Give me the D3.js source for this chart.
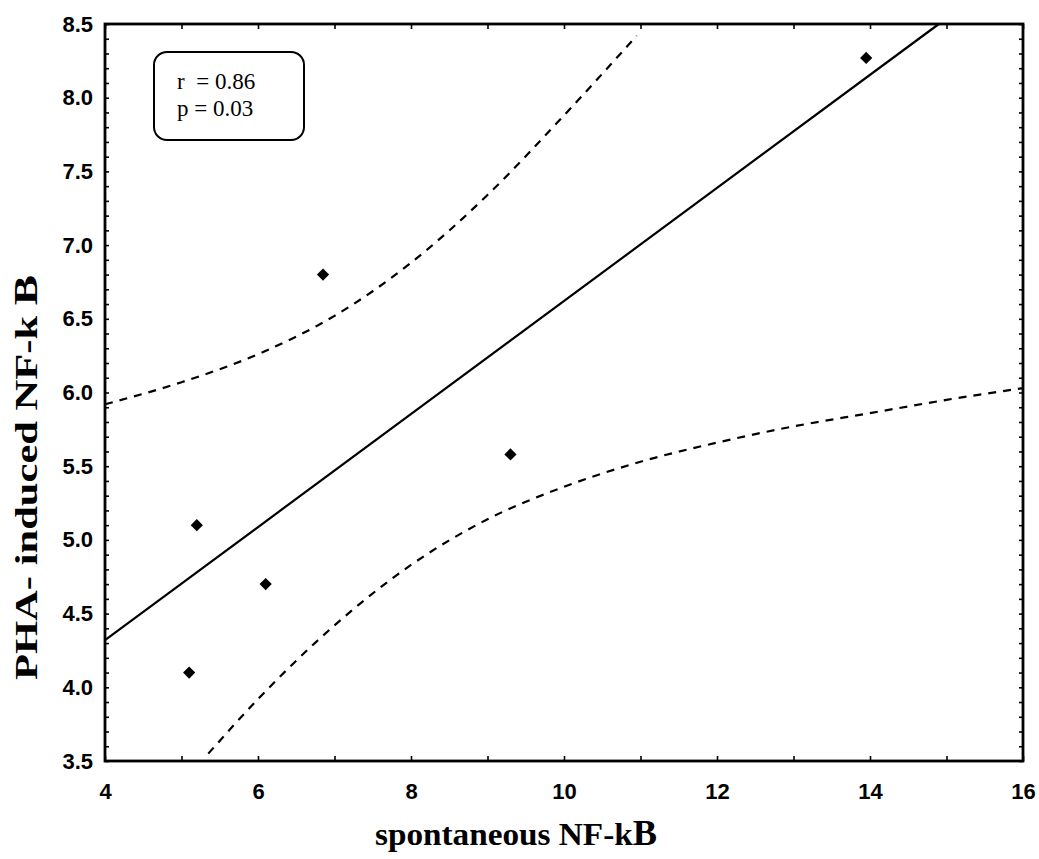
<!DOCTYPE html>
<html>
<head>
<meta charset="utf-8">
<script src="https://cdn.jsdelivr.net/npm/d3@7"></script>
<style>
  body { margin: 0; background: #fff; }
</style>
</head>
<body>
<script>
// scatter of spontaneous vs PHA-induced NF-kB, with fit line and 95% band
// values

var spontaneous = [5.1, 5.2, 6.1, 6.85, 9.3, 13.95];
var phaInduced = [4.1, 5.1, 4.7, 6.8, 5.58, 8.27];

// regression line end points
var fitX = [4, 14.9];
var fitY = [4.32, 8.5];

// upper dashed band
var upperX = [4, 5, 6, 7, 8, 9, 10, 10.95];
var upperY = [5.92, 6.07, 6.26, 6.52, 6.88, 7.34, 7.88, 8.42];

// lower dashed band
var lowerX = [5.35, 6, 7, 8, 9, 10, 11, 12, 13, 14, 15, 16];
var lowerY = [3.55, 3.92, 4.42, 4.83, 5.14, 5.36, 5.53, 5.66, 5.77, 5.86, 5.95, 6.03];

var xTicks = [4, 6, 8, 10, 12, 14, 16];
var yTicks = [3.5, 4.0, 4.5, 5.0, 5.5, 6.0, 6.5, 7.0, 7.5, 8.0, 8.5];
var statLines = ["r  = 0.86", "p = 0.03"];

var W = 1039, H = 859;
var pl = 105, pr = 1023, pt = 24, pb = 761;

var svg = d3.select('body')
  .append('svg')
  .attr('width', W)
  .attr('height', H);

var x = d3.scaleLinear().domain([4, 16]).range([pl, pr]);
var y = d3.scaleLinear().domain([3.5, 8.5]).range([pb, pt]);

// minor ticks, inward on all four sides
var xMinor = d3.range(4, 16.01, 1);
var yMinor = d3.range(35, 85.01, 1).map(function (v) { return v / 10; });

svg.append('g')
  .attr('transform', 'translate(0,' + pb + ')')
  .call(d3.axisBottom(x).tickValues(xMinor).tickSize(-5).tickFormat(''))
  .call(function (g) { g.select('.domain').remove(); });

svg.append('g')
  .attr('transform', 'translate(0,' + pt + ')')
  .call(d3.axisTop(x).tickValues(xMinor).tickSize(-5).tickFormat(''))
  .call(function (g) { g.select('.domain').remove(); });

svg.append('g')
  .attr('transform', 'translate(' + pl + ',0)')
  .call(d3.axisLeft(y).tickValues(yMinor).tickSize(-4).tickFormat(''))
  .call(function (g) { g.select('.domain').remove(); });

svg.append('g')
  .attr('transform', 'translate(' + pr + ',0)')
  .call(d3.axisRight(y).tickValues(yMinor).tickSize(-4).tickFormat(''))
  .call(function (g) { g.select('.domain').remove(); });

svg.selectAll('.tick line').attr('stroke', '#000').attr('stroke-width', 1.6);

// tick labels
var xAxis = svg.append('g')
  .attr('transform', 'translate(0,' + pb + ')')
  .call(d3.axisBottom(x).tickValues(xTicks).tickSize(0).tickPadding(22)
    .tickFormat(d3.format('d')));
xAxis.select('.domain').remove();

var yAxis = svg.append('g')
  .attr('transform', 'translate(' + pl + ',0)')
  .call(d3.axisLeft(y).tickValues(yTicks).tickSize(0).tickPadding(12)
    .tickFormat(d3.format('.1f')));
yAxis.select('.domain').remove();

svg.selectAll('.tick text')
  .attr('font-family', 'Liberation Sans, Arial, sans-serif')
  .attr('font-size', 22)
  .attr('font-weight', 'bold')
  .attr('fill', '#000');

// frame
svg.append('rect')
  .attr('x', pl)
  .attr('y', pt)
  .attr('width', pr - pl)
  .attr('height', pb - pt)
  .attr('fill', 'none')
  .attr('stroke', '#000')
  .attr('stroke-width', 2.8);

// fit line and band
var line = d3.line()
  .x(function (d) { return x(d[0]); })
  .y(function (d) { return y(d[1]); })
  .curve(d3.curveMonotoneX);

svg.append('path')
  .datum(d3.zip(fitX, fitY))
  .attr('d', line)
  .attr('fill', 'none')
  .attr('stroke', '#000')
  .attr('stroke-width', 2.2);

[[upperX, upperY], [lowerX, lowerY]].forEach(function (band) {
  svg.append('path')
    .datum(d3.zip(band[0], band[1]))
    .attr('d', line)
    .attr('fill', 'none')
    .attr('stroke', '#000')
    .attr('stroke-width', 2.2)
    .attr('stroke-dasharray', '8,7');
});

// points
svg.selectAll('.dot')
  .data(d3.zip(spontaneous, phaInduced))
  .enter()
  .append('path')
  .attr('class', 'dot')
  .attr('d', d3.symbol().type(d3.symbolDiamond2).size(95))
  .attr('transform', function (d) {
    return 'translate(' + x(d[0]) + ',' + y(d[1]) + ')';
  })
  .attr('fill', '#000');

// stats box
svg.append('rect')
  .attr('x', 154)
  .attr('y', 52)
  .attr('width', 150)
  .attr('height', 88)
  .attr('rx', 13)
  .attr('fill', 'none')
  .attr('stroke', '#000')
  .attr('stroke-width', 2);

svg.selectAll('.stat')
  .data(statLines)
  .enter()
  .append('text')
  .attr('x', 177)
  .attr('y', function (d, i) { return 89 + i * 27; })
  .attr('font-family', 'Liberation Serif, Times New Roman, serif')
  .attr('font-size', 23)
  .attr('fill', '#000')
  .style('white-space', 'pre')
  .text(function (d) { return d; });

// axis titles
var xt = svg.append('text')
  .attr('x', 375)
  .attr('y', 845)
  .attr('textLength', 282)
  .attr('lengthAdjust', 'spacingAndGlyphs')
  .attr('font-family', 'Liberation Serif, Times New Roman, serif')
  .attr('font-weight', 'bold')
  .attr('font-size', 32)
  .attr('fill', '#000');
xt.append('tspan').text('spontaneous NF-k');
xt.append('tspan').attr('font-size', 35).text('B');

var yt = svg.append('text')
  .attr('transform', 'translate(37,680) rotate(-90)')
  .attr('textLength', 405)
  .attr('lengthAdjust', 'spacingAndGlyphs')
  .attr('font-family', 'Liberation Serif, Times New Roman, serif')
  .attr('font-weight', 'bold')
  .attr('font-size', 32)
  .attr('fill', '#000');
yt.append('tspan').text('PHA- induced NF-k ');
yt.append('tspan').attr('font-size', 34).text('B');
</script>
</body>
</html>
